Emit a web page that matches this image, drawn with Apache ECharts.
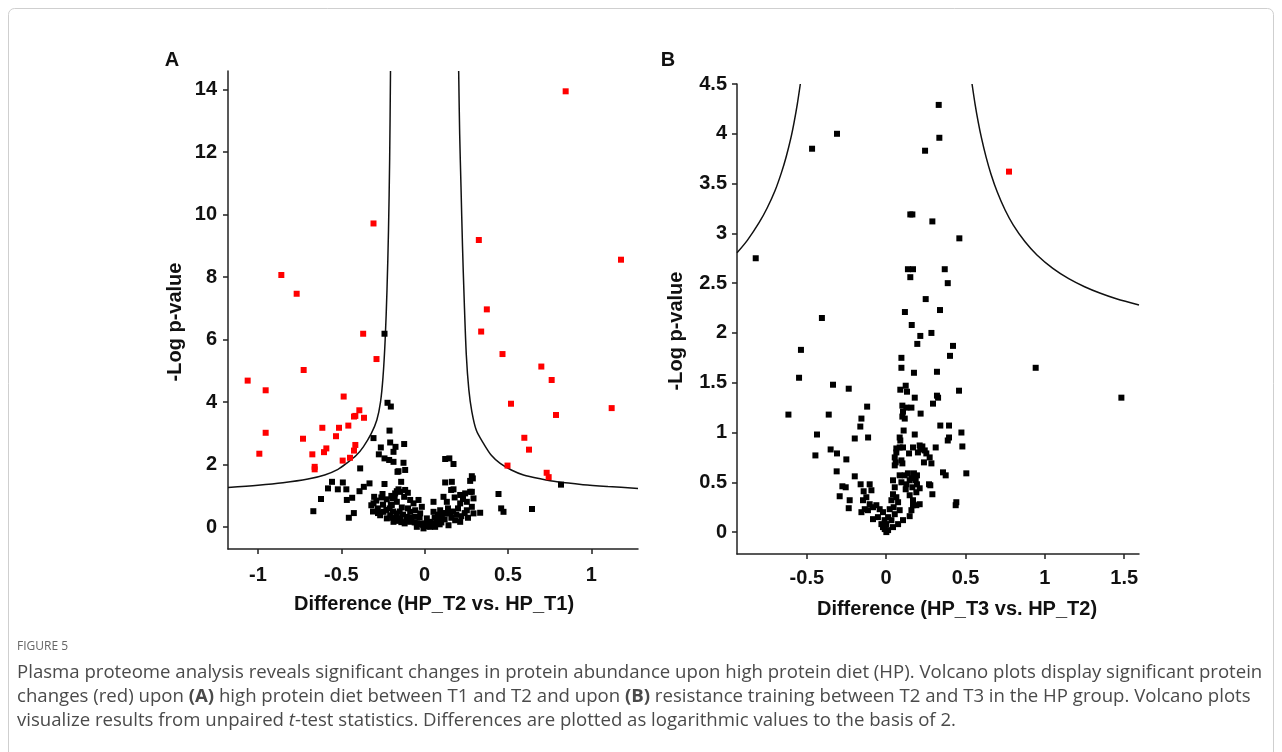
<!DOCTYPE html>
<html><head><meta charset="utf-8">
<script src="https://cdn.jsdelivr.net/npm/echarts@6/dist/echarts.min.js"></script>
<style>html,body{margin:0;padding:0;background:#fff;} #c{width:1282px;height:752px;}</style>
</head><body><div id="c"></div>
<script>
// ---------- Panel A data ----------
const aXTicks = [-1, -0.5, 0, 0.5, 1];
const aYTicks = [0, 2, 4, 6, 8, 10, 12, 14];
const aRed = [
  [-1.062,4.69],[-0.954,4.38],[-0.954,3.02],[-0.992,2.35],[-0.860,8.07],[-0.768,7.47],[-0.726,5.03],
  [-0.730,2.83],[-0.674,2.33],[-0.660,1.93],[-0.660,1.85],[-0.614,3.18],[-0.604,2.40],[-0.590,2.52],
  [-0.532,2.91],[-0.514,3.18],[-0.486,4.18],[-0.492,2.13],[-0.458,3.25],[-0.448,2.22],[-0.424,3.54],
  [-0.416,3.56],[-0.392,3.74],[-0.364,3.50],[-0.424,2.45],[-0.416,2.63],[-0.369,6.19],[-0.289,5.38],
  [-0.307,9.72],
  [0.846,13.95],[0.325,9.19],[1.178,8.56],[0.373,6.97],[0.339,6.26],[0.467,5.54],[0.700,5.14],
  [0.762,4.71],[0.518,3.95],[0.788,3.59],[1.122,3.81],[0.598,2.86],[0.626,2.48],[0.497,1.97],
  [0.732,1.74],[0.744,1.60]
];
const aBlack = [
  [-0.241,6.19],[-0.223,3.98],[-0.203,3.86],[-0.307,2.85],[-0.211,3.09],
  [-0.207,2.71],[-0.175,2.57],[-0.123,2.66],[-0.263,2.55],[-0.275,2.33],[-0.187,2.41],
  [-0.241,2.20],[-0.213,2.15],[-0.187,2.09],[-0.127,2.06],
  [-0.157,1.79],[-0.117,1.83],[-0.387,1.88],[-0.163,1.77],
  [0.123,2.18],[0.148,2.20],[0.173,2.02],[0.283,1.63],[0.273,1.48],[0.289,1.56],
  [-0.556,1.45],[-0.491,1.43],[-0.580,1.24],[-0.521,1.21],[-0.470,1.21],[-0.331,1.40],[-0.365,1.29],
  [-0.391,1.15],[-0.241,1.38],[-0.141,1.45],[-0.117,1.19],[-0.167,1.15],[-0.303,0.97],[-0.253,1.06],
  [-0.101,1.10],[-0.147,1.13],
  [0.123,1.43],[0.163,1.45],[0.173,1.21],[0.159,1.19],[0.273,1.13],[0.283,1.13],[0.243,1.08],
  [0.213,1.03],[0.443,1.06],[0.818,1.36],
  [-0.622,0.90],[-0.467,0.87],[-0.435,0.94],[-0.668,0.51],[-0.455,0.30],[-0.425,0.45],
  [-0.307,0.76],[-0.281,0.60],[-0.247,0.49],[-0.207,0.38],[-0.167,0.44],[-0.197,0.71],[-0.137,0.63],
  [-0.087,0.49],[-0.067,0.76],[-0.037,0.87],[-0.017,0.65],[-0.057,0.33],[-0.087,0.17],[-0.047,0.12],
  [-0.007,0.06],[0.033,0.01],[0.073,0.12],[0.093,0.28],[0.123,0.44],[0.133,0.81],[0.113,0.97],
  [0.053,0.49],[0.013,0.28],[-0.107,0.33],[-0.147,0.28],[-0.187,0.17],[-0.227,0.28],[-0.267,0.38],
  [-0.123,0.97],[-0.087,0.87],[-0.167,0.81],[-0.227,0.89],
  [0.253,0.81],[0.293,0.92],[0.333,0.46],[0.459,0.60],[0.473,0.49],[0.644,0.58],[0.283,0.65],
  [0.213,0.76],[0.253,0.54],[0.293,0.44],[0.053,0.81],[0.213,0.17],
  [-0.057,0.54],[-0.027,0.44],[0.003,0.12],[0.033,0.17],[0.073,0.22],[0.103,0.33],[0.093,0.54],
  [0.153,0.44],[0.183,0.22],[0.143,0.06],[0.063,0.01],[-0.007,-0.04],[-0.047,0.01],
  [-0.25,0.72],[-0.23,0.55],[-0.21,0.60],[-0.19,0.50],[-0.17,0.30],[-0.15,0.50],[-0.13,0.40],
  [-0.11,0.20],[-0.10,0.60],[-0.08,0.30],[-0.06,0.15],[-0.03,0.30],[-0.02,0.10],[0.02,0.05],
  [0.04,0.12],[0.06,0.30],[0.08,0.40],[0.10,0.15],[0.12,0.25],[0.14,0.60],[0.16,0.30],[0.17,0.50],
  [0.19,0.40],[0.20,0.60],[0.22,0.35],[0.24,0.45],[0.26,0.30],[0.23,0.90],[0.18,0.95],[-0.28,0.45],
  [-0.29,0.85],[-0.26,0.95],[-0.18,0.95],[-0.20,1.00],[-0.31,0.50],[-0.32,0.70],[0.01,0.02],
  [-0.01,0.08],[0.05,0.06],[0.09,0.09],[0.11,0.45],[-0.12,0.12],[-0.14,0.16],[-0.16,0.20],
  [-0.203,0.71],[-0.191,0.92],[-0.177,1.08],[-0.157,1.21],[-0.195,0.30]
];
const aCurveLeft = [
  [-1.18,1.27],[-1.0,1.34],[-0.85,1.42],[-0.70,1.54],[-0.60,1.67],[-0.52,1.85],[-0.467,2.05],
  [-0.41,2.30],[-0.368,2.57],[-0.32,3.00],[-0.287,3.43],[-0.265,4.00],[-0.25,4.80],[-0.237,6.00],
  [-0.226,7.60],[-0.217,9.50],[-0.210,11.8],[-0.205,14.6]
];
const aCurveRight = [
  [0.204,14.6],[0.210,12.6],[0.218,10.9],[0.227,9.0],[0.237,7.3],[0.250,5.5],[0.265,4.4],
  [0.283,3.7],[0.310,3.1],[0.353,2.68],[0.400,2.30],[0.453,2.04],[0.520,1.83],[0.593,1.67],
  [0.700,1.54],[0.794,1.45],[0.950,1.36],[1.100,1.30],[1.28,1.24]
];
// ---------- Panel B data ----------
const bXTicks = [-0.5, 0, 0.5, 1, 1.5];
const bYTicks = [0, 0.5, 1, 1.5, 2, 2.5, 3, 3.5, 4, 4.5];
const bRed = [[0.774,3.62]];
const bBlack = [
  [-0.822,2.75],[-0.467,3.85],[-0.310,4.0],[-0.405,2.15],[0.331,4.29],[0.335,3.96],[0.245,3.83],
  [0.152,3.19],[0.165,3.19],[0.291,3.12],[0.461,2.95],[0.137,2.64],[0.169,2.64],[0.369,2.64],
  [0.152,2.56],[0.388,2.50],[0.249,2.34],[0.118,2.21],[0.339,2.23],[0.161,2.08],[0.285,2.00],
  [0.215,1.97],[0.196,1.89],[0.421,1.87],[0.402,1.77],[0.096,1.75],[0.096,1.65],[0.175,1.60],
  [0.320,1.61],[0.942,1.65],[1.482,1.35],
  [-0.537,1.83],[-0.549,1.55],[-0.335,1.48],[-0.236,1.44],[-0.616,1.18],[-0.362,1.18],[-0.120,1.26],
  [-0.156,1.14],[-0.163,1.06],[-0.436,0.98],[-0.198,0.94],[-0.114,0.95],[-0.350,0.83],[-0.310,0.79],
  [-0.446,0.77],[-0.251,0.73],[-0.312,0.61],[-0.198,0.56],[-0.276,0.46],[-0.255,0.45],[-0.293,0.36],
  [-0.230,0.32],[-0.236,0.24],[-0.161,0.48],[-0.142,0.41],
  [0.459,1.42],[0.089,1.43],[0.123,1.47],[0.131,1.41],[0.180,1.35],[0.320,1.37],[0.327,1.35],
  [0.295,1.29],[0.102,1.27],[0.127,1.25],[0.159,1.25],[0.106,1.21],[0.102,1.16],[0.117,1.14],
  [0.217,1.19],[0.110,1.02],[0.180,0.98],[0.341,1.07],[0.396,1.07],[0.396,0.95],[0.388,0.92],
  [0.474,1.00],[0.480,0.86],[0.312,0.85],[0.085,0.95],[0.089,0.92],[0.064,0.84],[0.085,0.85],
  [0.106,0.85],[0.169,0.85],[0.211,0.87],[0.228,0.86],[0.243,0.82],[0.215,0.83],[0.253,0.79],
  [0.274,0.75],[0.285,0.69],[0.238,0.70],[0.200,0.80],[0.144,0.79],[0.064,0.80],[0.054,0.75],
  [0.060,0.70],[0.054,0.67],[0.096,0.72],[0.102,0.69],[0.358,0.60],[0.375,0.57],[0.505,0.59],
  [0.291,0.38],[0.270,0.48],[0.278,0.47],[0.442,0.30],[0.438,0.27],
  [0.085,0.57],[0.137,0.59],[0.175,0.59],[0.194,0.57],[0.186,0.52],[0.148,0.52],[0.127,0.48],
  [0.194,0.48],[0.165,0.45],[0.123,0.43],[0.190,0.40],[0.211,0.28],[0.169,0.27],[0.159,0.22],
  [0.148,0.16],[0.106,0.12],[0.043,0.52],[0.054,0.45],[0.043,0.38],[0.064,0.35],[0.033,0.32],
  [0.075,0.30],[0.047,0.25],[0.022,0.23],[0.085,0.22],[0.054,0.18],[0.012,0.15],[0.033,0.12],
  [0.001,0.08],[-0.020,0.05],[0.012,0.02],[0.043,0.05],[0.075,0.08],[-0.010,0.12],
  [-0.146,0.32],[-0.125,0.35],[-0.104,0.28],[-0.156,0.20],[-0.135,0.23],[-0.115,0.22],[-0.083,0.25],
  [-0.062,0.27],[-0.041,0.23],[-0.020,0.20],[-0.052,0.15],[-0.083,0.13],[-0.030,0.08],[-0.009,0.03],
  [0.001,0.00],[-0.104,0.48],[-0.093,0.42],[0.211,0.44],[0.148,0.37],[0.169,0.32],[0.190,0.27],
  [0.117,0.57],[0.159,0.54],[0.096,0.50]
];
const bCurveLeft = [
  [-0.94,2.805],[-0.875,2.93],[-0.80,3.11],[-0.75,3.255],[-0.70,3.43],[-0.66,3.61],[-0.63,3.77],
  [-0.60,3.962],[-0.58,4.118],[-0.56,4.299],[-0.541,4.5]
];
const bCurveRight = [
  [0.541,4.5],[0.56,4.299],[0.58,4.118],[0.60,3.962],[0.63,3.763],[0.66,3.597],[0.70,3.415],
  [0.75,3.232],[0.80,3.086],[0.875,2.915],[0.95,2.783],[1.05,2.648],[1.15,2.545],[1.25,2.464],
  [1.35,2.398],[1.45,2.343],[1.593,2.280]
];
// ---------- Texts ----------
const aXTitle = 'Difference (HP_T2 vs. HP_T1)';
const bXTitle = 'Difference (HP_T3 vs. HP_T2)';
const yTitle = '-Log p-value';
const figLabel = 'FIGURE 5';
const captionLines = [
  'Plasma proteome analysis reveals significant changes in protein abundance upon high protein diet (HP). Volcano plots display significant protein',
  'changes (red) upon {b|(A)} high protein diet between T1 and T2 and upon {b|(B)} resistance training between T2 and T3 in the HP group. Volcano plots',
  'visualize results from unpaired {i|t}-test statistics. Differences are plotted as logarithmic values to the basis of 2.'
];

const FONT = '"Liberation Sans", Arial, sans-serif';
const CAPFONT = '"Open Sans", "Noto Sans", sans-serif';

// fit caption font size so the first line spans the reference width
const cv = document.createElement('canvas').getContext('2d');
cv.font = '16px ' + CAPFONT;
const w16 = cv.measureText(captionLines[0]).width;
const capSize = Math.round(16 * 1245 / w16 * 10) / 10;

function axisCommon() {
  return {
    type: 'value', splitLine: {show: false},
    axisLine: {show: true, onZero: false, lineStyle: {color: '#222', width: 1.5}},
    axisTick: {show: true, length: 5, lineStyle: {color: '#222', width: 1.5}},
    axisLabel: {fontFamily: FONT, fontWeight: 'bold', fontSize: 20, color: '#111'}
  };
}
function ax(idx, min, max, ticks, margin) {
  const a = axisCommon();
  a.gridIndex = idx; a.min = min; a.max = max;
  a.axisTick.customValues = ticks;
  a.axisLabel.customValues = ticks; a.axisLabel.margin = margin;
  return a;
}
function scatter(idx, data, color, size) {
  return {type: 'scatter', xAxisIndex: idx, yAxisIndex: idx, data: data, symbol: 'rect',
    symbolSize: size, itemStyle: {color: color, opacity: 1}, silent: true, z: 3};
}
function curve(idx, data) {
  return {type: 'line', xAxisIndex: idx, yAxisIndex: idx, data: data, showSymbol: false,
    smooth: 0.3, lineStyle: {color: '#111', width: 1.5}, silent: true, z: 2};
}
function txt(x, y, text, size, opts) {
  return Object.assign({type: 'text', x: x, y: y, silent: true,
    style: {text: text, font: 'bold ' + size + 'px ' + FONT, fill: '#111',
      textAlign: 'center', textVerticalAlign: 'middle'}}, opts || {});
}

const chart = echarts.init(document.getElementById('c'), null, {renderer: 'canvas'});
chart.setOption({
  animation: false,
  backgroundColor: '#fff',
  grid: [
    {left: 228, top: 71, width: 410, height: 478},
    {left: 737, top: 84, width: 402, height: 470}
  ],
  xAxis: [ax(0, -1.18, 1.28, aXTicks, 16), ax(1, -0.94, 1.593, bXTicks, 14)],
  yAxis: [ax(0, -0.7, 14.6, aYTicks, 11), ax(1, -0.22, 4.5, bYTicks, 10)],
  series: [
    curve(0, aCurveLeft), curve(0, aCurveRight),
    scatter(0, aBlack, '#000', 6), scatter(0, aRed, '#ff0000', 6),
    curve(1, bCurveLeft), curve(1, bCurveRight),
    scatter(1, bBlack, '#000', 6), scatter(1, bRed, '#ff0000', 6)
  ],
  graphic: [
    {type: 'rect', shape: {x: 8.5, y: 8.5, width: 1265, height: 820, r: 6},
      style: {fill: 'none', stroke: '#cfcfcf', lineWidth: 1}, silent: true, z: -10},
    txt(172, 60, 'A', 20),
    txt(668, 60, 'B', 20),
    txt(434, 604, aXTitle, 20),
    txt(957, 609, bXTitle, 20),
    txt(175, 322, yTitle, 20, {rotation: Math.PI / 2}),
    txt(676, 331, yTitle, 20, {rotation: Math.PI / 2}),
    {type: 'text', x: 17, y: 647, silent: true,
      style: {text: figLabel, font: '12px ' + CAPFONT, fill: '#666', textAlign: 'left', textVerticalAlign: 'middle'}},
    ...captionLines.map((l, i) => ({type: 'text', x: 17, y: 673 + i * 24, silent: true,
      style: {text: l, font: capSize + 'px ' + CAPFONT, fill: '#4a4a4a', textAlign: 'left', textVerticalAlign: 'middle',
        rich: {b: {fontWeight: 'bold', fontSize: capSize, fontFamily: CAPFONT, fill: '#4a4a4a'},
               i: {fontStyle: 'italic', fontSize: capSize, fontFamily: CAPFONT, fill: '#4a4a4a'}}}}))
  ]
});
</script></body></html>
